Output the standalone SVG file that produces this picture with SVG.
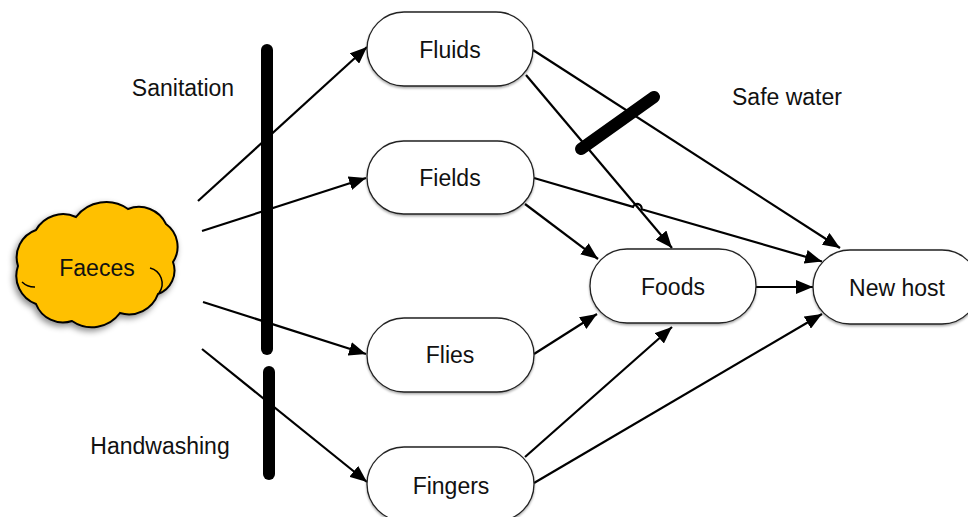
<svg xmlns="http://www.w3.org/2000/svg" width="968" height="517" viewBox="0 0 968 517">
  <style>
    .node { fill: #ffffff; stroke: #222222; stroke-width: 1.3; }
    .lbl { font-family: "Liberation Sans", Arial, sans-serif; font-size: 23px; fill: #111111; text-anchor: middle; }
    .note { font-family: "Liberation Sans", Arial, sans-serif; font-size: 23px; fill: #111111; text-anchor: middle; }
    .edge { fill: none; stroke: #000000; stroke-width: 2.2; }
    .barrier { stroke: #000000; stroke-width: 12; stroke-linecap: round; }
  </style>
  <defs>
    <marker id="arrow" markerUnits="userSpaceOnUse" markerWidth="18" markerHeight="14" refX="17" refY="7" orient="auto">
      <path d="M0,0 L17,7 L0,14 Z" fill="#000000"/>
    </marker>
    <filter id="cloudShadow" x="-20%" y="-20%" width="140%" height="140%">
      <feDropShadow dx="-2" dy="3" stdDeviation="3" flood-color="#000000" flood-opacity="0.45"/>
    </filter>
    <filter id="nodeShadow" x="-10%" y="-10%" width="120%" height="130%">
      <feDropShadow dx="0" dy="1.5" stdDeviation="0.8" flood-color="#000000" flood-opacity="0.35"/>
    </filter>
  </defs>

  <!-- source cloud -->
  <g id="faeces">
    <path filter="url(#cloudShadow)" fill="#FFC000" stroke="#000000" stroke-width="2"
      d="M18,266 A29,29 0 0 1 36,230 A31,31 0 0 1 76,217 A38,38 0 0 1 128,209 A30,30 0 0 1 166,224 A28,28 0 0 1 173,262 A25,25 0 0 1 158,294 A31,31 0 0 1 120,313 A35,35 0 0 1 72,321 A29,29 0 0 1 36,304 A30,30 0 0 1 18,266 Z"/>
    <path fill="none" stroke="#000000" stroke-width="1.5" d="M150,268 A16,16 0 0 1 159,293 M22,282 A18,18 0 0 0 35,287"/>
    <text class="lbl" x="97" y="276">Faeces</text>
  </g>

  <!-- barriers -->
  <g id="barriers">
    <line class="barrier" x1="267" y1="50" x2="267" y2="349"/>
    <line class="barrier" x1="269" y1="372" x2="269" y2="474"/>
    <line class="barrier" x1="581" y1="149" x2="654" y2="97"/>
  </g>

  <!-- connectors -->
  <g id="connectors">
    <line class="edge" x1="198" y1="201" x2="367" y2="47" marker-end="url(#arrow)"/>
    <line class="edge" x1="202" y1="231" x2="366" y2="178" marker-end="url(#arrow)"/>
    <line class="edge" x1="203" y1="302" x2="366" y2="354" marker-end="url(#arrow)"/>
    <line class="edge" x1="202" y1="349" x2="367" y2="482" marker-end="url(#arrow)"/>
    <line class="edge" x1="526" y1="75" x2="672" y2="248" marker-end="url(#arrow)"/>
    <line class="edge" x1="533" y1="50" x2="840" y2="248" marker-end="url(#arrow)"/>
    <line class="edge" x1="525" y1="204" x2="598" y2="259" marker-end="url(#arrow)"/>
    <path class="edge" d="M534,178 L633,206.8 A4.5,4.5 0 0 1 641.6,209.3 L822,261.5" marker-end="url(#arrow)"/>
    <line class="edge" x1="534" y1="354" x2="597" y2="314" marker-end="url(#arrow)"/>
    <line class="edge" x1="525" y1="457" x2="672" y2="327" marker-end="url(#arrow)"/>
    <line class="edge" x1="534" y1="483" x2="822" y2="314" marker-end="url(#arrow)"/>
    <line class="edge" x1="756" y1="287" x2="813" y2="287" marker-end="url(#arrow)"/>
  </g>

  <!-- transmission routes -->
  <g id="fluids">
    <rect class="node" filter="url(#nodeShadow)" x="367" y="12" width="166" height="74" rx="37" ry="37"/>
    <text class="lbl" x="450" y="58">Fluids</text>
  </g>
  <g id="fields">
    <rect class="node" filter="url(#nodeShadow)" x="367" y="141" width="167" height="73" rx="36.5" ry="36.5"/>
    <text class="lbl" x="450" y="186">Fields</text>
  </g>
  <g id="flies">
    <rect class="node" filter="url(#nodeShadow)" x="367" y="318" width="167" height="74" rx="37" ry="37"/>
    <text class="lbl" x="450" y="363">Flies</text>
  </g>
  <g id="fingers">
    <rect class="node" filter="url(#nodeShadow)" x="367" y="447" width="167" height="74" rx="37" ry="37"/>
    <text class="lbl" x="451" y="494">Fingers</text>
  </g>
  <g id="foods">
    <rect class="node" filter="url(#nodeShadow)" x="590" y="249" width="166" height="74" rx="37" ry="37"/>
    <text class="lbl" x="673" y="295">Foods</text>
  </g>
  <g id="new-host">
    <rect class="node" filter="url(#nodeShadow)" x="813" y="250" width="166" height="74" rx="37" ry="37"/>
    <text class="lbl" x="897" y="296">New host</text>
  </g>

  <!-- barrier labels -->
  <text class="note" x="183" y="96">Sanitation</text>
  <text class="note" x="787" y="105">Safe water</text>
  <text class="note" x="160" y="454">Handwashing</text>
</svg>
